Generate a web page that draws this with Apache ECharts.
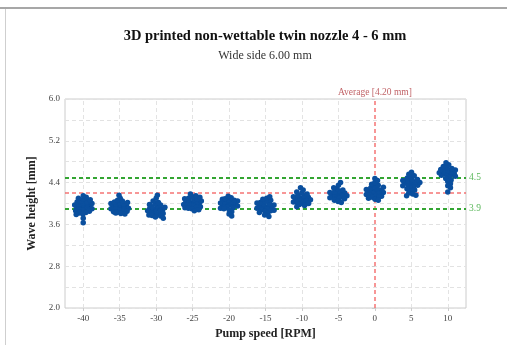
<!DOCTYPE html>
<html><head><meta charset="utf-8">
<script src="https://cdn.jsdelivr.net/npm/echarts@6/dist/echarts.min.js"></script>
<style>html,body{margin:0;padding:0;background:#fff}#c{width:509px;height:345px}</style>
</head><body><div id="c"></div>
<script>
// ---- data ----
const pumpSpeeds = [-40, -35, -30, -25, -20, -15, -10, -5, 0, 5, 10];
const yTickLabels = ['2.0', '2.8', '3.6', '4.4', '5.2', '6.0'];
const h_m40 = [4.15,4.12,4.10,4.08,4.07,4.05,4.04,4.03,4.02,4.01,4.00,3.99,3.98,3.98,3.97,3.96,3.95,3.95,3.94,3.93,3.92,3.91,3.90,3.90,3.89,3.88,3.87,3.86,3.85,3.84,3.83,3.82,3.80,3.79,3.72,3.63];
const h_m35 = [4.16,4.10,4.06,4.05,4.03,4.02,4.01,4.00,3.99,3.98,3.97,3.97,3.96,3.95,3.94,3.94,3.93,3.92,3.91,3.90,3.90,3.89,3.88,3.87,3.86,3.85,3.84,3.83,3.82,3.81,3.80];
const h_m30 = [4.16,4.10,4.05,4.02,4.00,3.98,3.97,3.95,3.94,3.93,3.92,3.91,3.90,3.89,3.88,3.88,3.87,3.86,3.85,3.84,3.83,3.82,3.81,3.80,3.79,3.78,3.77,3.76,3.74,3.72];
const h_m25 = [4.18,4.15,4.13,4.12,4.10,4.09,4.08,4.07,4.06,4.05,4.04,4.03,4.02,4.02,4.01,4.00,3.99,3.98,3.97,3.96,3.95,3.94,3.93,3.92,3.91,3.90,3.88,3.86];
const h_m20 = [4.14,4.11,4.09,4.08,4.07,4.06,4.05,4.04,4.03,4.02,4.01,4.00,3.99,3.98,3.97,3.96,3.95,3.94,3.93,3.92,3.91,3.90,3.88,3.84,3.80,3.76];
const h_m15 = [4.13,4.10,4.08,4.06,4.04,4.02,4.01,4.00,3.99,3.98,3.97,3.96,3.95,3.94,3.93,3.92,3.91,3.90,3.89,3.88,3.87,3.86,3.85,3.83,3.81,3.78,3.75];
const h_m10 = [4.30,4.26,4.22,4.20,4.18,4.16,4.15,4.14,4.13,4.12,4.11,4.10,4.09,4.08,4.07,4.06,4.05,4.04,4.03,4.02,4.01,4.00,3.98,3.96,3.94];
const h_m5  = [4.40,4.35,4.30,4.28,4.26,4.24,4.22,4.21,4.20,4.19,4.18,4.17,4.16,4.15,4.14,4.13,4.12,4.11,4.10,4.09,4.08,4.06,4.04,4.02];
const h_0   = [4.48,4.44,4.40,4.37,4.35,4.33,4.31,4.30,4.29,4.28,4.27,4.26,4.25,4.24,4.23,4.22,4.21,4.20,4.19,4.18,4.17,4.16,4.15,4.14,4.13,4.12,4.10,4.08,4.06];
const h_p5  = [4.60,4.56,4.53,4.51,4.49,4.47,4.46,4.45,4.44,4.43,4.42,4.41,4.40,4.39,4.38,4.37,4.36,4.35,4.34,4.32,4.30,4.28,4.26,4.24,4.20,4.18,4.16,4.15];
const h_p10 = [4.78,4.74,4.71,4.69,4.67,4.66,4.65,4.64,4.63,4.62,4.61,4.60,4.59,4.58,4.57,4.56,4.55,4.54,4.52,4.50,4.48,4.45,4.42,4.38,4.34,4.30,4.22];
const heights = [h_m40,h_m35,h_m30,h_m25,h_m20,h_m15,h_m10,h_m5,h_0,h_p5,h_p10];
const averageValue = 4.20;
const averageSpeed = 0;
const upperLimit = 4.5;
const lowerLimit = 3.9;

// ---- layout ----
const grid = {left: 65, top: 99, width: 401, height: 212};
const xMin = -42.5, xMax = 12.5, yMin = 2, yMax = 6;
const pxPerX = grid.width / (xMax - xMin);
const pxPerY = grid.height / (yMax - yMin);
const dot = 5.5;       // drawn symbol size
const packD = 3.4;     // packing distance (dots overlap like the original)
const maxHalfWidth = 9;

// beeswarm layout (deterministic)
function swarm(x0, ys) {
  const placed = [];
  const order = ys.map((y, i) => i);
  const mean = ys.reduce((a, b) => a + b, 0) / ys.length;
  order.sort((a, b) => Math.abs(ys[a] - mean) - Math.abs(ys[b] - mean));
  const out = [];
  order.forEach(i => {
    const py = ys[i] * pxPerY;
    const cands = [0];
    placed.forEach(p => {
      const dy = Math.abs(p.y - py);
      if (dy < packD) {
        const dx = Math.sqrt(packD * packD - dy * dy) + 0.01;
        cands.push(p.x + dx, p.x - dx);
      }
    });
    cands.sort((a, b) => Math.abs(a) - Math.abs(b));
    let chosen = null;
    for (const c of cands) {
      if (Math.abs(c) > maxHalfWidth) break;
      if (placed.every(p => (p.x - c) ** 2 + (p.y - py) ** 2 >= packD * packD - 0.001)) { chosen = c; break; }
    }
    if (chosen === null) chosen = (placed.length % 2 ? 1 : -1) * 4;
    placed.push({x: chosen, y: py});
    out.push([x0 + chosen / pxPerX, ys[i]]);
  });
  return out;
}
const points = [];
pumpSpeeds.forEach((s, k) => swarm(s, heights[k]).forEach(p => points.push(p)));

const serif = 'Liberation Serif';
const redLine = '#f25c5c';
const chart = echarts.init(document.getElementById('c'), null, {renderer: 'canvas'});
chart.setOption({
  animation: false,
  backgroundColor: '#fff',
  title: [
    {text: '3D printed non-wettable twin nozzle 4 - 6 mm', left: 260, top: 24, textAlign: 'center',
     textStyle: {fontFamily: serif, fontSize: 14.5, fontWeight: 'bold', color: '#111'}},
    {text: 'Wide side 6.00 mm', left: 260, top: 45, textAlign: 'center',
     textStyle: {fontFamily: serif, fontSize: 12, fontWeight: 'normal', color: '#333'}}
  ],
  graphic: [
    {type: 'line', shape: {x1: 0, y1: 8, x2: 507, y2: 8}, style: {stroke: '#8a8a8a', lineWidth: 1.5}},
    {type: 'line', shape: {x1: 5.5, y1: 9, x2: 5.5, y2: 345}, style: {stroke: '#cfcfcf', lineWidth: 1}}
  ],
  grid: {left: grid.left, top: grid.top, width: grid.width, height: grid.height,
         show: true, borderColor: '#cccccc', borderWidth: 1},
  xAxis: {
    type: 'value', min: xMin, max: xMax,
    name: 'Pump speed [RPM]', nameLocation: 'middle', nameGap: 20,
    nameTextStyle: {fontFamily: serif, fontSize: 12, fontWeight: 'bold', color: '#222'},
    axisLine: {show: false},
    axisTick: {show: true, customValues: pumpSpeeds, length: 3, lineStyle: {color: '#ccc'}},
    axisLabel: {customValues: pumpSpeeds, fontFamily: serif, fontSize: 9, color: '#444', margin: 6},
    splitLine: {show: false}
  },
  yAxis: {
    type: 'value', min: yMin, max: yMax, interval: 0.8,
    name: 'Wave height [mm]', nameLocation: 'middle', nameGap: 17, nameRotate: 90,
    nameTextStyle: {fontFamily: serif, fontSize: 12, fontWeight: 'bold', color: '#222'},
    axisLine: {show: false},
    axisTick: {show: true, length: 3, lineStyle: {color: '#ccc'}},
    axisLabel: {fontFamily: serif, fontSize: 9, color: '#444', margin: 5,
                formatter: v => yTickLabels.find(t => Math.abs(parseFloat(t) - v) < 1e-6) || v.toFixed(1)},
    splitLine: {show: true, lineStyle: {color: '#e2e2e2', type: [4, 3]}},
    minorTick: {show: false, splitNumber: 2},
    minorSplitLine: {show: true, lineStyle: {color: '#e2e2e2', type: [4, 3]}}
  },
  series: [
    {
      type: 'scatter', data: [], silent: true, z: 1,
      markLine: {
        symbol: 'none', silent: true, animation: false,
        lineStyle: {color: '#e3e3e3', type: [4, 3], width: 1},
        label: {show: false},
        data: pumpSpeeds.filter(s => s !== averageSpeed).map(s => ({xAxis: s}))
      }
    },
    {
      type: 'scatter', data: [], silent: true, z: 2,
      markLine: {
        symbol: 'none', silent: true, animation: false,
        lineStyle: {color: redLine, type: [4, 3], width: 1.5, opacity: 0.85},
        emphasis: {disabled: true},
        label: {show: true, position: 'end', fontFamily: serif, fontSize: 9.5, color: '#b5454a', distance: 2},
        data: [
          {yAxis: averageValue, label: {show: false}},
          {xAxis: averageSpeed, label: {formatter: 'Average [' + averageValue.toFixed(2) + ' mm]'}}
        ]
      }
    },
    {
      type: 'scatter', data: [], silent: true, z: 2,
      markLine: {
        symbol: 'none', silent: true, animation: false,
        lineStyle: {color: '#33a532', type: [4, 3], width: 2},
        label: {show: true, position: 'end', fontFamily: serif, fontSize: 9.5, color: '#5cb85c', distance: 3,
                formatter: p => p.value.toFixed(1)},
        data: [{yAxis: upperLimit}, {yAxis: lowerLimit}]
      }
    },
    {
      type: 'scatter', data: points, symbolSize: dot, z: 5,
      itemStyle: {color: '#0a4f9e', opacity: 1}
    }
  ]
});
</script></body></html>
